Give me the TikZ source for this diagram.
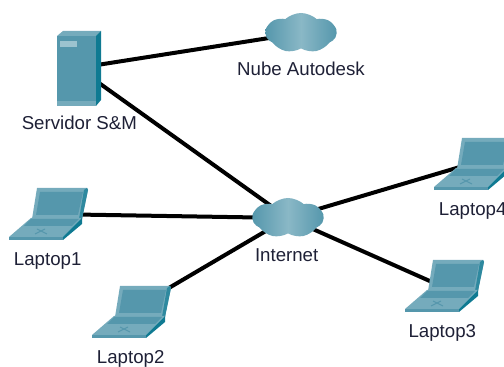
\documentclass[tikz,border=0pt]{standalone}
\usepackage{fontspec}
\setmainfont{Liberation Sans}
\usetikzlibrary{shapes.symbols,positioning}

\definecolor{icondark}{HTML}{0F7A92}
\definecolor{iconmid}{HTML}{5597AC}
\definecolor{iconlight}{HTML}{75ABBC}
\definecolor{iconpale}{HTML}{9CC3CF}
\definecolor{labelink}{HTML}{1E2036}

\tikzset{
    laptopicon/.pic={
        \fill[iconlight] (-8,-26) -- (42,-26) -- (43,-24) -- (37,5) -- (-13,5) -- cycle;
        \fill[icondark!70!iconlight] (42,-26) -- (43,-24) -- (37,5) -- (34,5) -- (39,-24) -- cycle;
        \fill[iconmid] (-5,-22) -- (38,-22) -- (33,1) -- (-9,1) -- cycle;
        \fill[iconlight] (-14,4) -- (37,4) -- (18,23) -- (-36,23) -- cycle;
        \fill[iconmid] (-14,5) -- (34,5) -- (27,12) -- (-21,12) -- cycle;
        \fill[icondark] (37,4) -- (37,10) -- (18,26) -- (18,23) -- cycle;
        \fill[iconmid] (-36,23) -- (18,23) -- (18,26) -- (-36,26) -- cycle;
        \draw[iconmid, line width=0.7pt] (-10,20) -- (0,15) (-8,15) -- (2,20);
    },
    servericon/.pic={
        \fill[iconlight] (-21,-32) -- (-15,-37) -- (23,-37) -- (18,-32) -- cycle;
        \fill[icondark] (18,-32) -- (23,-37) -- (23,32) -- (18,38) -- cycle;
        \fill[iconmid] (-21,-32) rectangle (18,38);
        \fill[iconpale] (-18,-27) rectangle (-1,-21);
        \fill[iconlight] (-21,33) rectangle (18,38);
    }
}

\begin{document}
\begin{tikzpicture}[
    x=0.75pt, y=-0.75pt,
    device/.style={rectangle, inner sep=0pt, minimum width=60pt, minimum height=39pt},
    tower/.style={rectangle, inner sep=0pt, minimum width=33pt, minimum height=56pt},
    nube/.style={cloud, cloud puffs=7, cloud puff arc=85, aspect=1.8, inner sep=0pt, minimum width=53pt, minimum height=30pt,
        left color=iconmid, right color=iconmid, middle color=iconlight!85!white},
    tag/.style={inner sep=0pt, text=labelink, text height=10.5pt, text depth=3pt, font=\fontsize{14}{16}\selectfont},
    link/.style={draw, black, line width=3pt}
]
\pgfdeclarelayer{bg}
\pgfsetlayers{bg,main}

\useasboundingbox (0,0) rectangle (504,367);
\clip (0,0) rectangle (504,367);

% Nodes
\node[tower] (server) at (78,68) {};
\pic at (server) {servericon};
\node[tag, below=7pt of server, xshift=1pt] (serverlbl) {Servidor S\&M};

\node[nube] (autodesk) at (301,33) {};
\node[tag, below=9.5pt of autodesk] (autodesklbl) {Nube Autodesk};

\node[nube] (internet) at (288,218) {};
\node[tag, below=10.5pt of internet, xshift=-1pt] (internetlbl) {Internet};

\node[device] (laptop1) at (45,214) {};
\pic at (laptop1) {laptopicon};
\node[device] (laptop2) at (128,312) {};
\pic at (laptop2) {laptopicon};
\node[device] (laptop3) at (441,286) {};
\pic at (laptop3) {laptopicon};
\node[device] (laptop4) at (470,164) {};
\pic at (laptop4) {laptopicon};

\node[tag, below=8pt of laptop1, xshift=2pt] (laptop1lbl) {Laptop1};
\node[tag, below=8.5pt of laptop2, xshift=2pt] (laptop2lbl) {Laptop2};
\node[tag, below=8pt of laptop3, xshift=1pt] (laptop3lbl) {Laptop3};
\node[tag, below=8pt of laptop4, xshift=2pt] (laptop4lbl) {Laptop4};

% Links
\begin{pgfonlayer}{bg}
\path[link] (server.center) -- (autodesk.center);
\path[link] (server.center) -- (internet.center);
\path[link] (laptop1.center) -- (internet.center);
\path[link] (laptop2.center) -- (internet.center);
\path[link] (laptop3.center) -- (internet.center);
\path[link] (laptop4.center) -- (internet.center);
\end{pgfonlayer}

\end{tikzpicture}
\end{document}
